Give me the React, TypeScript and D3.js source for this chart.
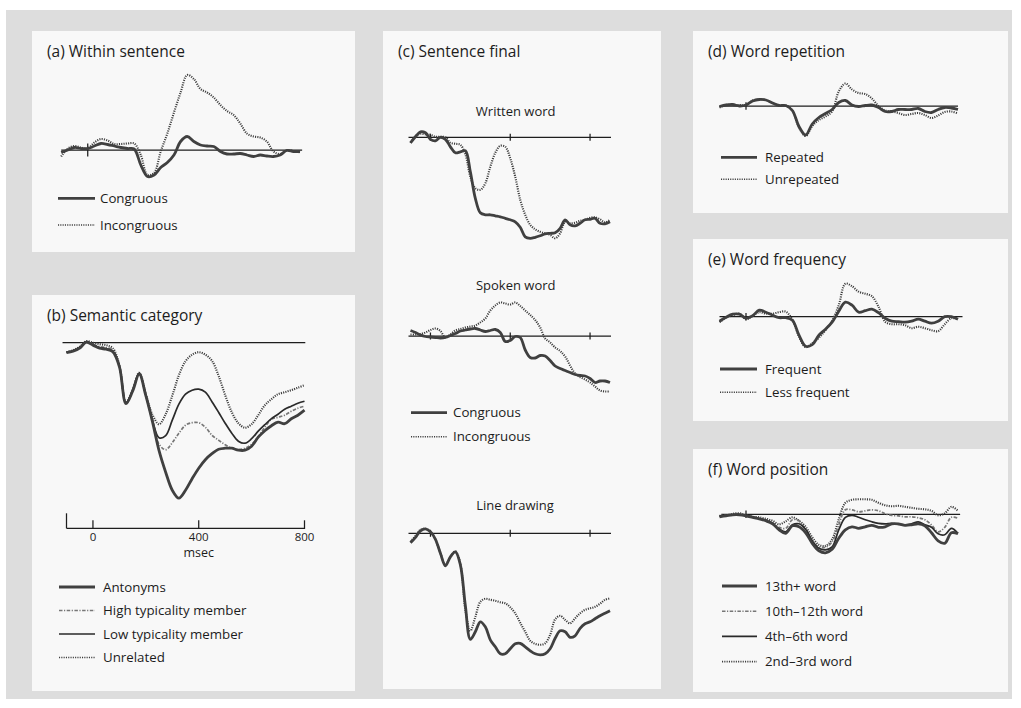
import React from 'react';
import * as d3 from 'd3';

// ---------- time grids (ms) ----------
const TIMES_STD = d3.range(-100, 801, 25); // -100..800
const TIMES_C = d3.range(-100, 901, 25);   // -100..900

// ---------- (a) Within sentence ----------
const aCongruous = [-0.5,0,0.5,0.3,0.3,0.8,1.3,1.1,0.8,0.5,0.3,0.2,-3.0,-5.3,-5.0,-3.5,-2.5,-1.0,1.7,2.7,1.7,1.0,0.8,0.7,-0.3,-0.8,-0.8,-0.7,-1.0,-1.3,-1.0,-1.2,-1.3,-1.0,-0.1,-0.3,-0.3];
const aIncongruous = [-1.3,0.3,0.8,0.5,0.3,1.5,2.2,1.9,1.2,1.2,1.3,1.3,-1.0,-5.0,-4.6,-0.3,3.3,7.5,11.5,15.0,14.2,12.2,11.5,10.5,9.0,7.8,7.0,5.3,3.3,2.7,2.5,1.7,-0.3,-0.8,-0.1,-0.2,-0.5];

// ---------- (b) Semantic category ----------
const bAntonyms = [-2.0,-1.7,-1.1,0.1,-0.5,-1.1,-1.3,-1.8,-4.8,-12.2,-9.7,-6.3,-10.6,-15.8,-21.6,-25.9,-29.5,-31.1,-29.5,-27.2,-25.1,-23.4,-22.2,-21.3,-21.1,-21.1,-21.5,-21.5,-20.7,-18.9,-17.6,-16.6,-15.9,-16.2,-15.2,-14.5,-13.5];
const bHigh = [-1.9,-1.6,-1.0,0.2,-0.3,-0.8,-1.0,-1.5,-4.6,-12.0,-9.6,-6.2,-10.4,-15.5,-20.3,-21.4,-20.0,-18.1,-16.5,-16.0,-16.0,-16.9,-18.5,-19.5,-20.4,-21.1,-21.4,-21.1,-20.3,-18.8,-16.9,-15.3,-14.9,-14.5,-13.7,-13.1,-12.7];
const bLow = [-1.9,-1.6,-1.0,0.2,-0.4,-1.0,-1.2,-1.7,-4.7,-12.0,-9.5,-6.1,-10.5,-15.5,-19.0,-18.6,-15.5,-12.3,-10.3,-9.5,-9.3,-9.9,-11.8,-13.9,-16.1,-18.1,-19.7,-20.1,-19.2,-17.7,-16.4,-15.2,-14.3,-13.3,-12.7,-12.1,-11.7];
const bUnrelated = [-1.9,-1.5,-0.8,0.3,0,-0.3,-0.5,-1.1,-4.5,-12.0,-9.5,-6.0,-10.3,-14.4,-16.3,-14.3,-10.6,-6.5,-3.7,-2.4,-1.9,-2.4,-3.6,-6.6,-10.5,-13.9,-16.1,-17.0,-16.3,-14.5,-12.5,-11.3,-10.3,-9.9,-9.5,-9.0,-8.5];
const bAxisTicks = [0, 400, 800];

// ---------- (c) Sentence final ----------
const cWrittenCong = [-1.1,0.1,1.1,0.9,-0.4,-0.7,0,-0.4,-1.9,-3.1,-2.9,-2.7,-6.9,-12.2,-15.1,-15.5,-15.5,-15.7,-15.9,-16.2,-16.5,-16.9,-18.0,-19.9,-20.2,-20.0,-19.7,-19.3,-19.2,-19.1,-18.2,-16.5,-17.5,-17.7,-17.2,-16.5,-16.4,-16.2,-17.2,-17.3,-16.9];
const cWrittenIncong = [-1.1,0.3,0.7,0.6,0.5,0.1,0.1,0,-1.1,-1.3,-1.5,-3.4,-7.9,-10.2,-10.5,-9.2,-5.9,-3.1,-1.7,-1.9,-4.2,-7.9,-12.5,-15.5,-17.5,-18.4,-18.9,-19.2,-19.5,-20.2,-19.2,-16.9,-17.2,-17.1,-16.7,-16.5,-16.1,-16.0,-16.4,-17.0,-16.5];
const cSpokenCong = [1.1,0.7,0.2,-0.1,-0.2,-0.3,-0.4,-0.3,0.1,0.5,1.0,1.2,1.4,1.5,1.2,0.9,1.1,1.3,0.7,-1.1,-0.9,-0.1,-0.3,-2.8,-4.3,-4.4,-3.9,-4.0,-4.9,-6.0,-6.5,-6.9,-7.3,-7.7,-7.9,-8.0,-8.5,-9.3,-9.0,-9.0,-9.3];
const cSpokenIncong = [0.3,0.3,0.4,0.7,1.2,1.5,1.0,-0.3,0.3,1.1,1.4,1.7,1.9,2.1,2.7,3.5,5.1,6.1,6.7,6.5,6.3,6.7,6.0,5.1,4.2,3.2,1.7,-0.5,-1.3,-2.3,-3.0,-4.1,-5.9,-7.5,-8.2,-8.7,-9.3,-10.1,-10.9,-11.1,-11.1];
const cLineCong = [-1.9,-0.8,0.5,0.9,0.3,-1.2,-4.0,-6.5,-4.7,-3.7,-6.3,-14.5,-21.2,-19.7,-17.7,-18.7,-21.3,-22.7,-24.1,-24.1,-23.1,-22.1,-22.0,-22.7,-23.5,-24.1,-24.3,-24.1,-23.1,-21.0,-19.5,-19.7,-20.8,-20.5,-19.0,-18.1,-17.7,-17.1,-16.5,-16.0,-15.5];
const cLineIncong = [-1.7,-0.5,0.7,0.9,0.3,-1.2,-4.0,-6.3,-4.7,-3.6,-6.1,-15.3,-19.5,-16.7,-13.7,-13.1,-13.3,-13.5,-13.8,-14.0,-14.8,-16.0,-17.9,-19.7,-21.5,-22.1,-22.3,-22.0,-20.3,-17.2,-16.5,-17.3,-18.0,-17.0,-16.0,-15.3,-15.0,-14.7,-14.1,-13.3,-13.0];
const cTicks = [0, 400, 800];

// ---------- (d) Word repetition ----------
const dRepeated = [-0.1,0.2,0.3,0,0.2,1.0,1.3,1.2,0.6,0.1,0.1,-0.9,-4.1,-5.8,-3.6,-2.3,-1.5,-0.7,0.7,1.1,0.2,-0.1,0.1,0.2,-0.3,-1.1,-1.1,-0.7,-0.7,-0.7,-0.5,-1.1,-1.3,-0.7,-0.3,-0.4,-0.7];
const dUnrepeated = [-0.3,0.2,0.2,0.2,0.2,1.1,1.3,1.2,0.6,0.1,0.1,-0.9,-4.3,-6.0,-4.0,-2.8,-2.1,-1.1,2.9,4.5,3.3,2.6,2.4,1.5,0,-0.9,-1.1,-1.4,-1.8,-1.6,-1.4,-1.8,-2.4,-1.9,-1.2,-1.1,-1.5];

// ---------- (e) Word frequency ----------
const eFrequent = [-0.9,-0.1,0.5,0.5,-0.3,0.2,1.3,0.9,0.3,-0.2,-0.2,-0.7,-3.7,-5.9,-5.6,-3.7,-2.5,-1.1,1.1,2.9,2.3,0.9,1.2,1.5,0.8,-0.3,-0.9,-1.0,-1.1,-0.9,-0.5,-0.9,-1.3,-0.9,0,0,-0.5];
const eLessFrequent = [-1.1,-0.2,0.3,0.6,-0.5,0.2,0.9,0.6,0.6,0.9,1.0,-0.6,-4.0,-6.1,-5.3,-4.2,-2.7,-0.8,2.3,6.6,6.1,5.0,4.6,4.1,2.0,-1.0,-1.5,-1.5,-1.7,-2.3,-2.0,-2.3,-2.7,-2.9,-1.5,-0.3,-0.5];

// ---------- (f) Word position ----------
const f13th = [-0.5,-0.3,-0.1,-0.1,-0.3,-0.6,-0.9,-1.3,-1.9,-3.1,-3.8,-2.3,-2.5,-3.7,-5.8,-7.3,-7.7,-7.0,-4.8,-3.1,-2.5,-2.8,-2.5,-2.2,-2.6,-2.5,-1.9,-1.9,-2.2,-2.1,-1.9,-2.3,-3.7,-5.3,-5.8,-3.7,-3.9];
const f10th = [-0.3,-0.2,0,0.1,-0.2,-0.5,-0.8,-1.1,-1.7,-2.6,-2.8,-1.1,-1.3,-3.3,-5.4,-6.5,-6.6,-5.5,-2.1,0.9,0.9,0.5,0.7,0.9,0.7,0.1,-0.2,-0.3,-0.5,-0.5,-0.7,-1.1,-2.1,-3.5,-2.6,-0.6,-0.8];
const f4th = [-0.3,-0.3,-0.1,0,-0.2,-0.5,-0.9,-1.2,-1.8,-2.9,-3.5,-2.1,-1.9,-3.0,-5.3,-6.8,-7.1,-6.5,-3.1,-0.6,-0.2,-0.6,-1.1,-1.5,-1.8,-1.9,-1.8,-2.0,-2.1,-1.9,-1.5,-2.1,-2.6,-3.9,-4.1,-2.8,-3.8];
const f2nd = [-0.3,-0.2,0.1,0.2,-0.2,-0.5,-0.6,-0.9,-1.3,-2.0,-1.4,-0.6,-1.3,-2.5,-4.6,-6.1,-6.3,-5.0,-1.0,2.3,2.9,3.0,3.0,2.9,2.3,1.8,1.6,1.7,1.5,1.3,1.1,1.0,0.7,-0.2,0.2,1.5,0.7];

// ---------- styling ----------
type StyleKey = 'thick' | 'solid' | 'dotted' | 'dashdot';
const STYLES: Record<StyleKey, { stroke: string; width: number; dash?: string; order: number }> = {
  dotted: { stroke: '#3c3c3c', width: 2.1, dash: '1.1 1.2', order: 0 },
  dashdot: { stroke: '#777777', width: 1.7, dash: '3.5 1.5 1.2 1.5', order: 1 },
  solid: { stroke: '#2a2a2a', width: 1.7, order: 2 },
  thick: { stroke: '#404040', width: 2.8, order: 3 },
};
const PX_PER_UNIT = 5;
const FONT = "'Open Sans', 'Noto Sans', sans-serif";
const TEXT = '#1c1c1c';

interface Series { name: string; values: number[]; style: StyleKey }
interface PlotDef {
  times: number[];
  domain: [number, number];
  range: [number, number];
  base: number;
  lineDomain: [number, number];
  ticks: number[];
  tickH: number;
  series: Series[];
}

const PANELS = [
  { x: 32, y: 31, w: 323, h: 221, title: '(a) Within sentence' },
  { x: 32, y: 295, w: 323, h: 396, title: '(b) Semantic category' },
  { x: 383, y: 31, w: 278, h: 658, title: '(c) Sentence final' },
  { x: 693, y: 31, w: 315, h: 182, title: '(d) Word repetition' },
  { x: 693, y: 239, w: 315, h: 182, title: '(e) Word frequency' },
  { x: 693, y: 449, w: 315, h: 243, title: '(f) Word position' },
];

const sA: Series[] = [
  { name: 'Congruous', values: aCongruous, style: 'thick' },
  { name: 'Incongruous', values: aIncongruous, style: 'dotted' },
];
const sB: Series[] = [
  { name: 'Antonyms', values: bAntonyms, style: 'thick' },
  { name: 'High typicality member', values: bHigh, style: 'dashdot' },
  { name: 'Low typicality member', values: bLow, style: 'solid' },
  { name: 'Unrelated', values: bUnrelated, style: 'dotted' },
];
const sCW: Series[] = [
  { name: 'Congruous', values: cWrittenCong, style: 'thick' },
  { name: 'Incongruous', values: cWrittenIncong, style: 'dotted' },
];
const sCS: Series[] = [
  { name: 'Congruous', values: cSpokenCong, style: 'thick' },
  { name: 'Incongruous', values: cSpokenIncong, style: 'dotted' },
];
const sCL: Series[] = [
  { name: 'Congruous', values: cLineCong, style: 'thick' },
  { name: 'Incongruous', values: cLineIncong, style: 'dotted' },
];
const sD: Series[] = [
  { name: 'Repeated', values: dRepeated, style: 'thick' },
  { name: 'Unrepeated', values: dUnrepeated, style: 'dotted' },
];
const sE: Series[] = [
  { name: 'Frequent', values: eFrequent, style: 'thick' },
  { name: 'Less frequent', values: eLessFrequent, style: 'dotted' },
];
const sF: Series[] = [
  { name: '13th+ word', values: f13th, style: 'thick' },
  { name: '10th\u201312th word', values: f10th, style: 'dashdot' },
  { name: '4th\u20136th word', values: f4th, style: 'solid' },
  { name: '2nd\u20133rd word', values: f2nd, style: 'dotted' },
];

const PLOTS: PlotDef[] = [
  { times: TIMES_STD, domain: [-100, 800], range: [61.2, 300], base: 150, lineDomain: [-100, 808], ticks: [0], tickH: 6.5, series: sA },
  { times: TIMES_STD, domain: [-100, 800], range: [66.5, 304.5], base: 342.7, lineDomain: [-115, 803], ticks: [], tickH: 0, series: sB },
  { times: TIMES_C, domain: [-100, 900], range: [410.5, 610], base: 137.3, lineDomain: [-110, 905], ticks: cTicks, tickH: 3.5, series: sCW },
  { times: TIMES_C, domain: [-100, 900], range: [410.5, 610], base: 336, lineDomain: [-110, 905], ticks: cTicks, tickH: 3.5, series: sCS },
  { times: TIMES_C, domain: [-100, 900], range: [410.5, 610], base: 533.3, lineDomain: [-110, 905], ticks: cTicks, tickH: 3.5, series: sCL },
  { times: TIMES_STD, domain: [-100, 800], range: [719.5, 958], base: 106, lineDomain: [-100, 800], ticks: [0], tickH: 3.7, series: sD },
  { times: TIMES_STD, domain: [-100, 800], range: [719.5, 958], base: 316.7, lineDomain: [-100, 817], ticks: [0], tickH: 3.7, series: sE },
  { times: TIMES_STD, domain: [-100, 800], range: [719.5, 958], base: 514.3, lineDomain: [-93, 808], ticks: [0], tickH: 3.7, series: sF },
];

const SUBLABELS = [
  { text: 'Written word', x: 515.7, y: 111.7 },
  { text: 'Spoken word', x: 515.7, y: 285 },
  { text: 'Line drawing', x: 515, y: 505 },
];

const LEGENDS = [
  { series: sA, x0: 58, x1: 95, tx: 100, y0: 198.3, dy: 26.7 },
  { series: sB, x0: 59, x1: 95, tx: 103, y0: 587, dy: 23.5 },
  { series: sCS, x0: 411, x1: 447, tx: 453, y0: 412.7, dy: 24 },
  { series: sD, x0: 721, x1: 757, tx: 765, y0: 157.3, dy: 22 },
  { series: sE, x0: 720, x1: 757, tx: 765, y0: 369, dy: 23.3 },
  { series: sF, x0: 722, x1: 757, tx: 765, y0: 586, dy: 25.2 },
];

function strokeProps(k: StyleKey, legend = false) {
  const s = STYLES[k];
  const w = legend && k !== 'thick' ? Math.min(s.width, 1.6) : s.width;
  return { stroke: s.stroke, strokeWidth: w, strokeDasharray: s.dash, strokeLinejoin: 'round' as const };
}

function Plot({ p }: { p: PlotDef }) {
  const x = d3.scaleLinear().domain(p.domain).range(p.range);
  const y = d3.scaleLinear().domain([-10, 10]).range([p.base + 10 * PX_PER_UNIT, p.base - 10 * PX_PER_UNIT]);
  const line = d3
    .line<number>()
    .x((_, i) => x(p.times[i]))
    .y((v) => y(v))
    .curve(d3.curveCatmullRom.alpha(0.5));
  const ordered = [...p.series].sort((a, b) => STYLES[a.style].order - STYLES[b.style].order);
  return (
    <g>
      <line x1={x(p.lineDomain[0])} x2={x(p.lineDomain[1])} y1={y(0)} y2={y(0)} stroke="#1e1e1e" strokeWidth={1.25} />
      {p.ticks.map((t) => (
        <line key={t} x1={x(t)} x2={x(t)} y1={y(0) - p.tickH} y2={y(0) + p.tickH} stroke="#1e1e1e" strokeWidth={1.25} />
      ))}
      {ordered.map((s) => (
        <path key={s.name} d={line(s.values) || ''} fill="none" {...strokeProps(s.style)} />
      ))}
    </g>
  );
}

function BottomAxisB() {
  const p = PLOTS[1];
  const x = d3.scaleLinear().domain(p.domain).range(p.range);
  const yAxis = 528.3;
  return (
    <g>
      <line x1={x(-100)} x2={x(800) + 0.6} y1={yAxis} y2={yAxis} stroke="#1e1e1e" strokeWidth={1.25} />
      <line x1={x(-100)} x2={x(-100)} y1={yAxis} y2={yAxis - 15} stroke="#1e1e1e" strokeWidth={1.25} />
      {bAxisTicks.map((t) => (
        <g key={t}>
          <line x1={x(t)} x2={x(t)} y1={yAxis} y2={yAxis - 8} stroke="#1e1e1e" strokeWidth={1.25} />
          <text x={x(t)} y={540.8} textAnchor="middle" fontSize={11.5} fill={TEXT}>{t}</text>
        </g>
      ))}
      <text x={x(400)} y={556.6} textAnchor="middle" fontSize={12.5} fill={TEXT}>msec</text>
    </g>
  );
}

export default function App() {
  return (
    <svg
      width={1021}
      height={708}
      style={{ position: 'absolute', left: 0, top: 0 }}
      fontFamily={FONT}
    >
      <rect width={1021} height={708} fill="#ffffff" />
      <rect x={6} y={10} width={1006} height={689} fill="#dddddd" />
      {PANELS.map((pn) => (
        <g key={pn.title}>
          <rect x={pn.x} y={pn.y} width={pn.w} height={pn.h} fill="#f8f8f8" />
          <text x={pn.x + 15} y={pn.y + 25.5} fontSize={15.5} fill={TEXT}>{pn.title}</text>
        </g>
      ))}
      {SUBLABELS.map((l) => (
        <text key={l.text} x={l.x} y={l.y} dy="0.35em" textAnchor="middle" fontSize={13} fill={TEXT}>{l.text}</text>
      ))}
      {PLOTS.map((p, i) => (
        <Plot key={i} p={p} />
      ))}
      <BottomAxisB />
      {LEGENDS.map((lg, li) => (
        <g key={li}>
          {lg.series.map((s, i) => (
            <g key={s.name}>
              <line x1={lg.x0} x2={lg.x1} y1={lg.y0 + i * lg.dy} y2={lg.y0 + i * lg.dy} {...strokeProps(s.style, true)} />
              <text x={lg.tx} y={lg.y0 + i * lg.dy} dy="0.35em" fontSize={13.3} fill={TEXT}>{s.name}</text>
            </g>
          ))}
        </g>
      ))}
    </svg>
  );
}
